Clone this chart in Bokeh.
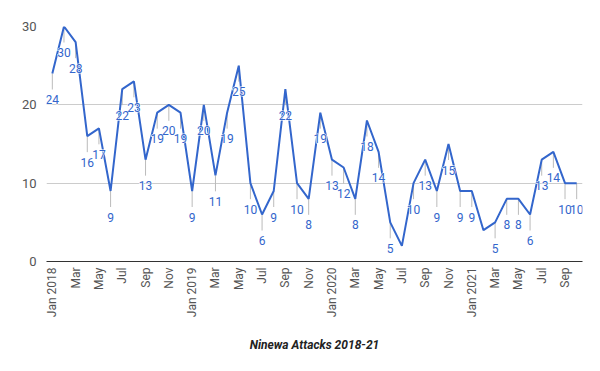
import math
from bokeh.plotting import figure
from bokeh.models import Range1d, FixedTicker, ColumnDataSource
from bokeh.core.properties import value
from bokeh.embed import file_html
from bokeh.resources import INLINE

months = ["Jan 2018", "Feb", "Mar", "Apr", "May", "Jun", "Jul", "Aug", "Sep", "Oct", "Nov", "Dec",
          "Jan 2019", "Feb", "Mar", "Apr", "May", "Jun", "Jul", "Aug", "Sep", "Oct", "Nov", "Dec",
          "Jan 2020", "Feb", "Mar", "Apr", "May", "Jun", "Jul", "Aug", "Sep", "Oct", "Nov", "Dec",
          "Jan 2021", "Feb", "Mar", "Apr", "May", "Jun", "Jul", "Aug", "Sep", "Oct"]
attacks = [24, 30, 28, 16, 17, 9, 22, 23, 13, 19, 20, 19,
           9, 20, 11, 19, 25, 10, 6, 9, 22, 10, 8, 19,
           13, 12, 8, 18, 14, 5, 2, 10, 13, 9, 15, 9,
           9, 4, 5, 8, 8, 6, 13, 14, 10, 10]
# months whose value label is not shown in the reference
hidden_labels = [30, 37]
y_ticks = [0, 10, 20, 30]
title_text = "Ninewa Attacks 2018-21"

idx = list(range(len(months)))
src = ColumnDataSource(dict(x=idx, y=attacks))
lab_idx = [i for i in idx if i not in hidden_labels]
lab_src = ColumnDataSource(dict(x=lab_idx, y=[attacks[i] for i in lab_idx],
                                t=[str(attacks[i]) for i in lab_idx]))

p = figure(width=592, height=363, output_backend="svg", toolbar_location=None,
           x_range=Range1d(-0.5, len(months) - 0.5), y_range=Range1d(y_ticks[0], y_ticks[-1]),
           min_border_left=46, min_border_right=10, min_border_top=26, min_border_bottom=102)
p.outline_line_color = None
p.background_fill_color = "white"

# stems for annotations
p.ray(x="x", y="y", source=lab_src, length=16, length_units="screen", angle=-math.pi / 2,
      line_color="#bbbbbb", line_width=1)

p.line(x="x", y="y", source=src, line_color="#3366cc", line_width=2)

# white halo behind the labels, then the labels
p.text(x="x", y="y", text="t", source=lab_src, y_offset=26, text_align="center",
       text_baseline="middle", text_font=value("Roboto"), text_font_size="12px",
       text_color="white", text_outline_color="white")
p.text(x="x", y="y", text="t", source=lab_src, y_offset=26, text_align="center",
       text_baseline="middle", text_font=value("Roboto"), text_font_size="12px",
       text_color="#3366cc")

# axes
p.xaxis.ticker = FixedTicker(ticks=idx[::2])
p.xaxis.major_label_overrides = {i: months[i] for i in idx[::2]}
p.xaxis.major_label_orientation = math.pi / 2
p.xaxis.major_label_text_font = "Roboto"
p.xaxis.major_label_text_font_size = "12px"
p.xaxis.major_label_text_color = "#555555"
p.xaxis.major_tick_line_color = None
p.xaxis.minor_tick_line_color = None
p.xaxis.axis_line_color = "#333333"
p.xaxis.major_label_standoff = 0
p.xaxis.axis_label = title_text
p.xaxis.axis_label_text_font = "Roboto"
p.xaxis.axis_label_text_font_size = "12px"
p.xaxis.axis_label_text_font_style = "bold italic"
p.xaxis.axis_label_text_color = "#222222"
p.xaxis.axis_label_standoff = 18

p.yaxis.ticker = FixedTicker(ticks=y_ticks)
p.yaxis.major_label_text_font = "Roboto"
p.yaxis.major_label_text_font_size = "13px"
p.yaxis.major_label_text_color = "#555555"
p.yaxis.major_tick_line_color = None
p.yaxis.minor_tick_line_color = None
p.yaxis.axis_line_color = None
p.yaxis.major_label_standoff = 4

p.xgrid.grid_line_color = None
p.ygrid.grid_line_color = "#cccccc"
p.ygrid.ticker = FixedTicker(ticks=y_ticks[1:])

open("out.html", "w").write(file_html(p, INLINE))
